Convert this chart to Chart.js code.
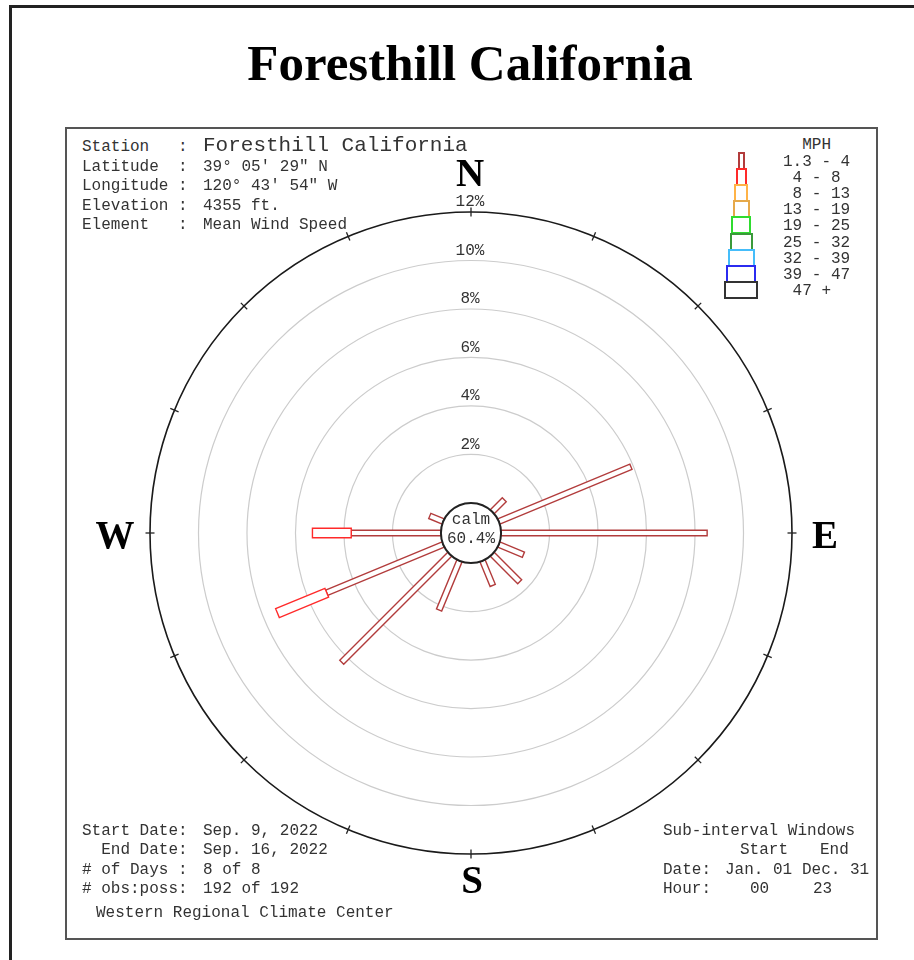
<!DOCTYPE html>
<html>
<head>
<meta charset="utf-8">
<title>Foresthill California</title>
<script src="https://cdn.jsdelivr.net/npm/chart.js@4.4.0/dist/chart.umd.min.js"></script>
<style>
  html, body { margin: 0; padding: 0; background: #fff; }
  body { width: 914px; height: 960px; position: relative; overflow: hidden; }
  #frameTop { position: absolute; left: 9px; top: 5px; width: 905px; height: 3px; background: #222; }
  #frameLeft { position: absolute; left: 9px; top: 5px; width: 3px; height: 955px; background: #222; }
  #panel { position: absolute; left: 65px; top: 127px; width: 809px; height: 809px; border: 2px solid #555; box-sizing: content-box; }
  #title { position: absolute; left: 0; width: 940px; top: 38px; text-align: center;
           font: bold 51px/51px "Liberation Serif", "Times New Roman", serif; color: #000; }
  .compass { position: absolute; width: 100px; text-align: center;
             font: bold 39px/39px "Liberation Serif", "Times New Roman", serif; color: #000; }
  .t { position: absolute; white-space: pre; font-family: "Liberation Mono", "Courier New", monospace;
       font-size: 16px; line-height: 20px; color: #333; }
  .big { font-size: 21px; line-height: 26px; }
  .lbox { position: absolute; box-sizing: border-box; border: 2px solid; background: transparent; }
  #rose { position: absolute; left: 130px; top: 192px; }
</style>
</head>
<body>
<div id="frameTop"></div>
<div id="frameLeft"></div>
<div id="panel"></div>
<div id="title">Foresthill California</div>

<canvas id="rose" width="682" height="682"></canvas>

<div class="compass" style="left:420px;top:153px;">N</div>
<div class="compass" style="left:65px;top:515px;">W</div>
<div class="compass" style="left:775px;top:515px;">E</div>
<div class="compass" style="left:422px;top:860px;">S</div>

<div id="info"></div>
<div id="legend"></div>

<script>
// Direction sectors, clockwise from north
const DIRECTIONS = ['N', 'NNE', 'NE', 'ENE', 'E', 'ESE', 'SE', 'SSE',
                    'S', 'SSW', 'SW', 'WSW', 'W', 'WNW', 'NW', 'NNW'];

// Frequency of each speed class per direction (% of all observations)
const FREQ_1_4 = [0, 0, 0.7, 5.9, 8.5, 1.1, 1.6, 1.1, 0, 2.2, 6.3, 5.2, 3.7, 0.6, 0, 0];
const FREQ_4_8 = [0, 0, 0,   0,   0,   0,   0,   0,   0, 0,   0,   2.2, 1.6, 0,   0, 0];

// Speed classes (MPH) shown in the key
const SPEED_CLASSES = ['1.3 - 4', ' 4 - 8', ' 8 - 13', '13 - 19', '19 - 25',
                       '25 - 32', '32 - 39', '39 - 47', ' 47 +'];

// Percent rings
const RING_TICKS = [2, 4, 6, 8, 10, 12];

// Calm share (%)
const CALM_PCT = 60.4;

// Styling for the speed classes
const CLASS_COLORS = ['#b23c3c', '#ff2a2a', '#ffb347', '#e6a94a', '#2fdc2f',
                      '#3a9a3a', '#45bdfa', '#2b2bf0', '#333333'];
const CLASS_WIDTHS = [7, 11, 14, 17, 20, 23, 27, 30, 34];

// Radius of the calm circle, expressed in percent units of the radial axis
const CALM_RING = 1.24;

const MONO = '"Liberation Mono", "Courier New", monospace';

// ---- text blocks ----
function addText(parent, x, yc, text, cls) {
  const d = document.createElement('div');
  d.className = 't' + (cls ? ' ' + cls : '');
  d.textContent = text;
  const lh = cls === 'big' ? 26 : 20;
  d.style.left = x + 'px';
  d.style.top = (yc - lh / 2) + 'px';
  parent.appendChild(d);
}

const info = document.getElementById('info');
addText(info, 82, 147, 'Station   :');
addText(info, 203, 146, 'Foresthill California', 'big');
addText(info, 82, 167, 'Latitude  :');
addText(info, 203, 167, '39\u00b0 05\' 29" N');
addText(info, 82, 186, 'Longitude :');
addText(info, 203, 186, '120\u00b0 43\' 54" W');
addText(info, 82, 206, 'Elevation :');
addText(info, 203, 206, '4355 ft.');
addText(info, 82, 225, 'Element   :');
addText(info, 203, 225, 'Mean Wind Speed');

addText(info, 82, 831, 'Start Date:');
addText(info, 203, 831, 'Sep. 9, 2022');
addText(info, 82, 850, '  End Date:');
addText(info, 203, 850, 'Sep. 16, 2022');
addText(info, 82, 870, '# of Days :');
addText(info, 203, 870, '8 of 8');
addText(info, 82, 889, '# obs:poss:');
addText(info, 203, 889, '192 of 192');
addText(info, 96, 913, 'Western Regional Climate Center');

addText(info, 663, 831, 'Sub-interval Windows');
addText(info, 740, 850, 'Start');
addText(info, 820, 850, 'End');
addText(info, 663, 870, 'Date:');
addText(info, 725, 870, 'Jan. 01');
addText(info, 802, 870, 'Dec. 31');
addText(info, 663, 889, 'Hour:');
addText(info, 750, 889, '00');
addText(info, 813, 889, '23');

// ---- speed key ----
const legend = document.getElementById('legend');
addText(legend, 783, 145, '  MPH');
SPEED_CLASSES.forEach((label, i) => {
  addText(legend, 783, 162 + 16.1 * i, label);
  const box = document.createElement('div');
  box.className = 'lbox';
  const w = CLASS_WIDTHS[i];
  const top = 151.5 + 16.2 * i;
  box.style.left = (741 - w / 2) + 'px';
  box.style.top = top + 'px';
  box.style.width = w + 'px';
  box.style.height = '18px';
  box.style.borderColor = CLASS_COLORS[i];
  legend.appendChild(box);
});

// ---- wind rose ----
// Draws each direction as a stack of outlined bars, one segment per speed class
const roseBars = {
  id: 'roseBars',
  afterDatasetsDraw(chart) {
    const r = chart.scales.r;
    const ctx = chart.ctx;
    const n = chart.data.labels.length;
    ctx.save();
    ctx.lineJoin = 'miter';
    for (let i = 0; i < n; i++) {
      let base = 0;
      chart.data.datasets.forEach((ds) => {
        const v = ds.data[i];
        if (!v) return;
        const p0 = r.getPointPositionForValue(i, base);
        const p1 = r.getPointPositionForValue(i, base + v);
        base += v;
        const dx = p1.x - p0.x, dy = p1.y - p0.y;
        const len = Math.hypot(dx, dy);
        const hw = (ds.barWidth - 1.4) / 2;
        const nx = -dy / len * hw, ny = dx / len * hw;
        ctx.beginPath();
        ctx.moveTo(p0.x + nx, p0.y + ny);
        ctx.lineTo(p1.x + nx, p1.y + ny);
        ctx.lineTo(p1.x - nx, p1.y - ny);
        ctx.lineTo(p0.x - nx, p0.y - ny);
        ctx.closePath();
        ctx.fillStyle = '#fff';
        ctx.fill();
        ctx.lineWidth = 1.4;
        ctx.strokeStyle = ds.borderColor;
        ctx.stroke();
      });
    }
    ctx.restore();
  },
  afterDraw(chart) {
    const r = chart.scales.r;
    const ctx = chart.ctx;
    const cx = r.xCenter, cy = r.yCenter;
    ctx.save();

    // ring labels just above each ring on the north axis
    ctx.font = '16px ' + MONO;
    ctx.fillStyle = '#333';
    ctx.textAlign = 'center';
    ctx.textBaseline = 'middle';
    r.ticks.forEach((t) => {
      const d = r.getDistanceFromCenterForValue(t.value);
      ctx.fillText(t.value + '%', cx - 1, cy - d - 10);
    });

    // compass ticks on the outer ring
    const outer = r.getDistanceFromCenterForValue(r.max);
    ctx.strokeStyle = '#222';
    ctx.lineWidth = 1.3;
    for (let i = 0; i < chart.data.labels.length; i++) {
      const a = r.getPointPosition(i, outer - 4.5);
      const b = r.getPointPosition(i, outer + 4.5);
      ctx.beginPath();
      ctx.moveTo(a.x, a.y);
      ctx.lineTo(b.x, b.y);
      ctx.stroke();
    }

    // calm circle
    const rc = r.getDistanceFromCenterForValue(0);
    ctx.beginPath();
    ctx.arc(cx, cy, rc, 0, Math.PI * 2);
    ctx.fillStyle = '#fff';
    ctx.fill();
    ctx.lineWidth = 2;
    ctx.strokeStyle = '#222';
    ctx.stroke();
    ctx.fillStyle = '#333';
    ctx.font = '16px ' + MONO;
    ctx.fillText('calm', cx, cy - 13);
    ctx.fillText(CALM_PCT.toFixed(1) + '%', cx, cy + 6);
    ctx.restore();
  }
};

new Chart(document.getElementById('rose'), {
  type: 'radar',
  data: {
    labels: DIRECTIONS,
    datasets: [
      { label: SPEED_CLASSES[0], data: FREQ_1_4, borderColor: CLASS_COLORS[0], barWidth: CLASS_WIDTHS[0],
        showLine: false, pointRadius: 0, pointHoverRadius: 0, fill: false },
      { label: SPEED_CLASSES[1], data: FREQ_4_8, borderColor: CLASS_COLORS[1], barWidth: CLASS_WIDTHS[1],
        showLine: false, pointRadius: 0, pointHoverRadius: 0, fill: false }
    ]
  },
  options: {
    responsive: false,
    animation: false,
    events: [],
    layout: { padding: 20 },
    plugins: { legend: { display: false }, tooltip: { enabled: false } },
    scales: {
      r: {
        min: -CALM_RING,
        max: 12,
        beginAtZero: false,
        afterBuildTicks: (s) => { s.ticks = RING_TICKS.map((v) => ({ value: v })); },
        ticks: { display: false },
        pointLabels: { display: false },
        angleLines: { display: false },
        grid: {
          circular: true,
          color: (c) => (c.tick && c.tick.value === 12 ? '#1a1a1a' : '#cccccc'),
          lineWidth: (c) => (c.tick && c.tick.value === 12 ? 1.6 : 1.2)
        }
      }
    }
  },
  plugins: [roseBars]
});
</script>
</body>
</html>
